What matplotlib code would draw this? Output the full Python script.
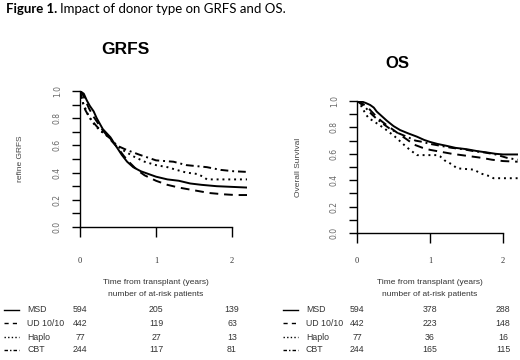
import numpy as np
import matplotlib
matplotlib.use("Agg")
from matplotlib import pyplot as plt
from matplotlib.lines import Line2D
from matplotlib.transforms import blended_transform_factory

# ---- data ----
groups = ["MSD", "UD 10/10", "Haplo", "CBT"]
styles = ["-", (0, (4.5, 3)), (0, (1, 2)), (0, (4, 2, 1, 2))]
sample_styles = ["-", (0, (3, 3)), (0, (1, 1.6)), (0, (2.5, 1.5, 1, 1.5))]

# GRFS curves
grfs_msd_t = [0, 0.05, 0.09, 0.13, 0.18, 0.22, 0.26, 0.30, 0.35, 0.40, 0.48, 0.55, 0.62, 0.70, 0.80, 0.90, 1.0, 1.15, 1.3, 1.45, 1.6, 1.8, 2.0, 2.2]
grfs_msd_s = [1.0, 0.98, 0.93, 0.89, 0.85, 0.80, 0.76, 0.72, 0.69, 0.66, 0.59, 0.53, 0.48, 0.44, 0.41, 0.39, 0.37, 0.35, 0.34, 0.32, 0.31, 0.30, 0.295, 0.29]
grfs_ud_t = [0, 0.04, 0.08, 0.12, 0.18, 0.24, 0.30, 0.36, 0.42, 0.50, 0.58, 0.66, 0.75, 0.85, 1.0, 1.15, 1.3, 1.5, 1.7, 1.9, 2.05, 2.2]
grfs_ud_s = [1.0, 0.97, 0.92, 0.87, 0.81, 0.76, 0.71, 0.67, 0.63, 0.58, 0.52, 0.47, 0.42, 0.38, 0.34, 0.31, 0.29, 0.27, 0.25, 0.24, 0.235, 0.235]
grfs_haplo_t = [0, 0.02, 0.04, 0.08, 0.11, 0.18, 0.26, 0.35, 0.42, 0.48, 0.58, 0.70, 0.85, 1.0, 1.15, 1.27, 1.4, 1.54, 1.62, 1.67, 2.2]
grfs_haplo_s = [1.0, 0.96, 0.91, 0.86, 0.82, 0.76, 0.71, 0.675, 0.64, 0.60, 0.56, 0.52, 0.48, 0.455, 0.44, 0.42, 0.40, 0.39, 0.37, 0.35, 0.35]
grfs_cbt_t = [0, 0.03, 0.07, 0.13, 0.22, 0.31, 0.40, 0.48, 0.62, 0.79, 1.0, 1.23, 1.4, 1.67, 1.85, 2.02, 2.2]
grfs_cbt_s = [1.0, 0.93, 0.86, 0.80, 0.74, 0.69, 0.65, 0.60, 0.565, 0.53, 0.49, 0.48, 0.455, 0.44, 0.42, 0.41, 0.405]

# OS curves
os_msd_t = [0, 0.07, 0.12, 0.18, 0.23, 0.27, 0.33, 0.41, 0.50, 0.59, 0.70, 0.82, 0.92, 1.0, 1.1, 1.23, 1.35, 1.5, 1.65, 1.78, 1.9, 2.0, 2.2]
os_msd_s = [1.0, 0.995, 0.985, 0.97, 0.95, 0.92, 0.89, 0.85, 0.81, 0.78, 0.755, 0.73, 0.705, 0.69, 0.675, 0.66, 0.645, 0.635, 0.62, 0.61, 0.60, 0.595, 0.595]
os_ud_t = [0, 0.05, 0.1, 0.15, 0.2, 0.27, 0.33, 0.4, 0.5, 0.6, 0.68, 0.78, 0.9, 1.0, 1.15, 1.3, 1.5, 1.7, 1.85, 2.0, 2.2]
os_ud_s = [1.0, 0.99, 0.97, 0.95, 0.92, 0.88, 0.85, 0.82, 0.78, 0.74, 0.71, 0.67, 0.645, 0.63, 0.615, 0.60, 0.585, 0.57, 0.555, 0.545, 0.54]
os_haplo_t = [0, 0.04, 0.08, 0.12, 0.16, 0.22, 0.3, 0.38, 0.45, 0.52, 0.6, 0.68, 0.75, 0.82, 1.1, 1.14, 1.2, 1.3, 1.37, 1.6, 1.7, 1.82, 1.87, 2.2]
os_haplo_s = [1.0, 0.98, 0.94, 0.90, 0.87, 0.85, 0.82, 0.79, 0.76, 0.73, 0.69, 0.65, 0.62, 0.59, 0.59, 0.58, 0.55, 0.52, 0.49, 0.48, 0.45, 0.43, 0.415, 0.415]
os_cbt_t = [0, 0.05, 0.1, 0.15, 0.2, 0.28, 0.35, 0.45, 0.55, 0.68, 0.8, 0.9, 1.0, 1.15, 1.3, 1.45, 1.6, 1.75, 1.9, 2.05, 2.2]
os_cbt_s = [1.0, 0.98, 0.96, 0.93, 0.90, 0.86, 0.83, 0.79, 0.76, 0.73, 0.70, 0.69, 0.675, 0.66, 0.645, 0.635, 0.62, 0.61, 0.595, 0.57, 0.555]

grfs_curves = [(grfs_msd_t, grfs_msd_s), (grfs_ud_t, grfs_ud_s), (grfs_haplo_t, grfs_haplo_s), (grfs_cbt_t, grfs_cbt_s)]
os_curves = [(os_msd_t, os_msd_s), (os_ud_t, os_ud_s), (os_haplo_t, os_haplo_s), (os_cbt_t, os_cbt_s)]

# at-risk table
risk_times = [0, 1, 2]
grfs_risk = [[594, 205, 139], [442, 119, 63], [77, 27, 13], [244, 117, 81]]
os_risk = [[594, 378, 288], [442, 223, 148], [77, 36, 16], [244, 165, 115]]

W, H = 520, 360
fig = plt.figure(figsize=(W / 100, H / 100), dpi=100)
fig.patch.set_facecolor("white")

def px(x, y):
    # pixel coords (top-left origin) -> figure fraction
    return x / W, 1 - y / H

def make_panel(left, right, top, bottom, curves, title, title_xy, title_size,
               ylabel, ylabel_x, risk, row_y, sample_x, label_x):
    x0, y0 = px(left, bottom)
    x1, y1 = px(right, top)
    ax = fig.add_axes([x0, y0, x1 - x0, y1 - y0])
    for (t, s), ls in zip(curves, styles):
        ax.plot(t, s, color="black", lw=1.4, linestyle=ls)
    ax.set_xlim(0, 2.2)
    ax.set_ylim(0, 1)
    for sp in ["top", "right"]:
        ax.spines[sp].set_visible(False)
    ax.spines["left"].set_bounds(0, 1)
    ax.spines["bottom"].set_bounds(0, 2)
    ax.spines["left"].set_linewidth(1.0)
    ax.spines["bottom"].set_linewidth(1.0)
    ax.set_xticks([0, 1, 2])
    ax.set_xticklabels([])
    ax.set_yticks(np.arange(0, 1.01, 0.2))
    ax.set_yticks(np.arange(0.1, 1.0, 0.2), minor=True)
    ax.set_yticklabels(["0.0", "0.2", "0.4", "0.6", "0.8", "1.0"])
    ax.tick_params(axis="x", length=7, width=1.0, direction="out")
    ax.tick_params(axis="y", which="both", length=6, width=1.0, direction="out")
    ax.tick_params(axis="y", labelsize=5.5, labelcolor="#666666", pad=7, labelrotation=90)
    for lab in ax.get_yticklabels():
        lab.set_va("center")
    ax.set_facecolor("none")

    # title and y label
    tx, ty = px(*title_xy)
    fig.text(tx, ty, title, fontsize=title_size, fontweight="bold",
             family="Liberation Sans", ha="center", va="center")
    lx, ly = px(ylabel_x, (top + bottom) / 2)
    fig.text(lx, ly, ylabel, fontsize=6, color="#444444", rotation=90,
             family="Liberation Sans", ha="center", va="center")

    # at-risk table, numbers lined up with the time axis
    tr = blended_transform_factory(ax.transData, fig.transFigure)
    for t in risk_times:
        fig.text(t, px(0, 261)[1], str(t), transform=tr, fontsize=6,
                 family="Liberation Serif", color="#333333", ha="center", va="center")
    fig.text(1, px(0, 282)[1], "Time from transplant (years)", transform=tr,
             fontsize=6, family="Liberation Sans", color="#333333", ha="center", va="center")
    fig.text(1, px(0, 295)[1], "number of at-risk patients", transform=tr,
             fontsize=6, family="Liberation Sans", color="#333333", ha="center", va="center")
    for g, ls, counts, ry in zip(groups, sample_styles, risk, row_y):
        fy = px(0, ry)[1]
        fig.add_artist(Line2D([sample_x[0] / W, sample_x[1] / W], [fy, fy],
                              color="black", lw=1.0, linestyle=ls))
        fig.text(label_x / W, fy, g, fontsize=6.3, family="Liberation Sans",
                 color="#333333", ha="left", va="center")
        for t, c in zip(risk_times, counts):
            fig.text(t, fy, str(c), transform=tr, fontsize=6.3, family="Liberation Sans",
                     color="#333333", ha="center", va="center")
    return ax

row_y = [310, 323, 337, 350]
make_panel(80, 80 + 2.2 * 76, 91, 227, grfs_curves, "GRFS", (125, 50), 12.5,
           "refine GRFS", 20, grfs_risk, row_y, (4, 19), 27)
make_panel(357, 357 + 2.2 * 73, 101, 233, os_curves, "OS", (397, 63), 12,
           "Overall Survival", 298, os_risk, row_y, (283, 298), 306)

# caption: bold "Figure 1." followed by normal text
fig.canvas.draw()
renderer = fig.canvas.get_renderer()
cx, cy = px(6, 9)
t1 = fig.text(cx, cy, "Figure 1.", fontsize=9.5, fontweight="bold", family="Lato",
              ha="left", va="center")
bb = t1.get_window_extent(renderer)
fig.text((bb.x1 + 3) / W, cy, "Impact of donor type on GRFS and OS.", fontsize=9.5,
         family="Lato", ha="left", va="center")

fig.savefig("out.png", dpi=100)
